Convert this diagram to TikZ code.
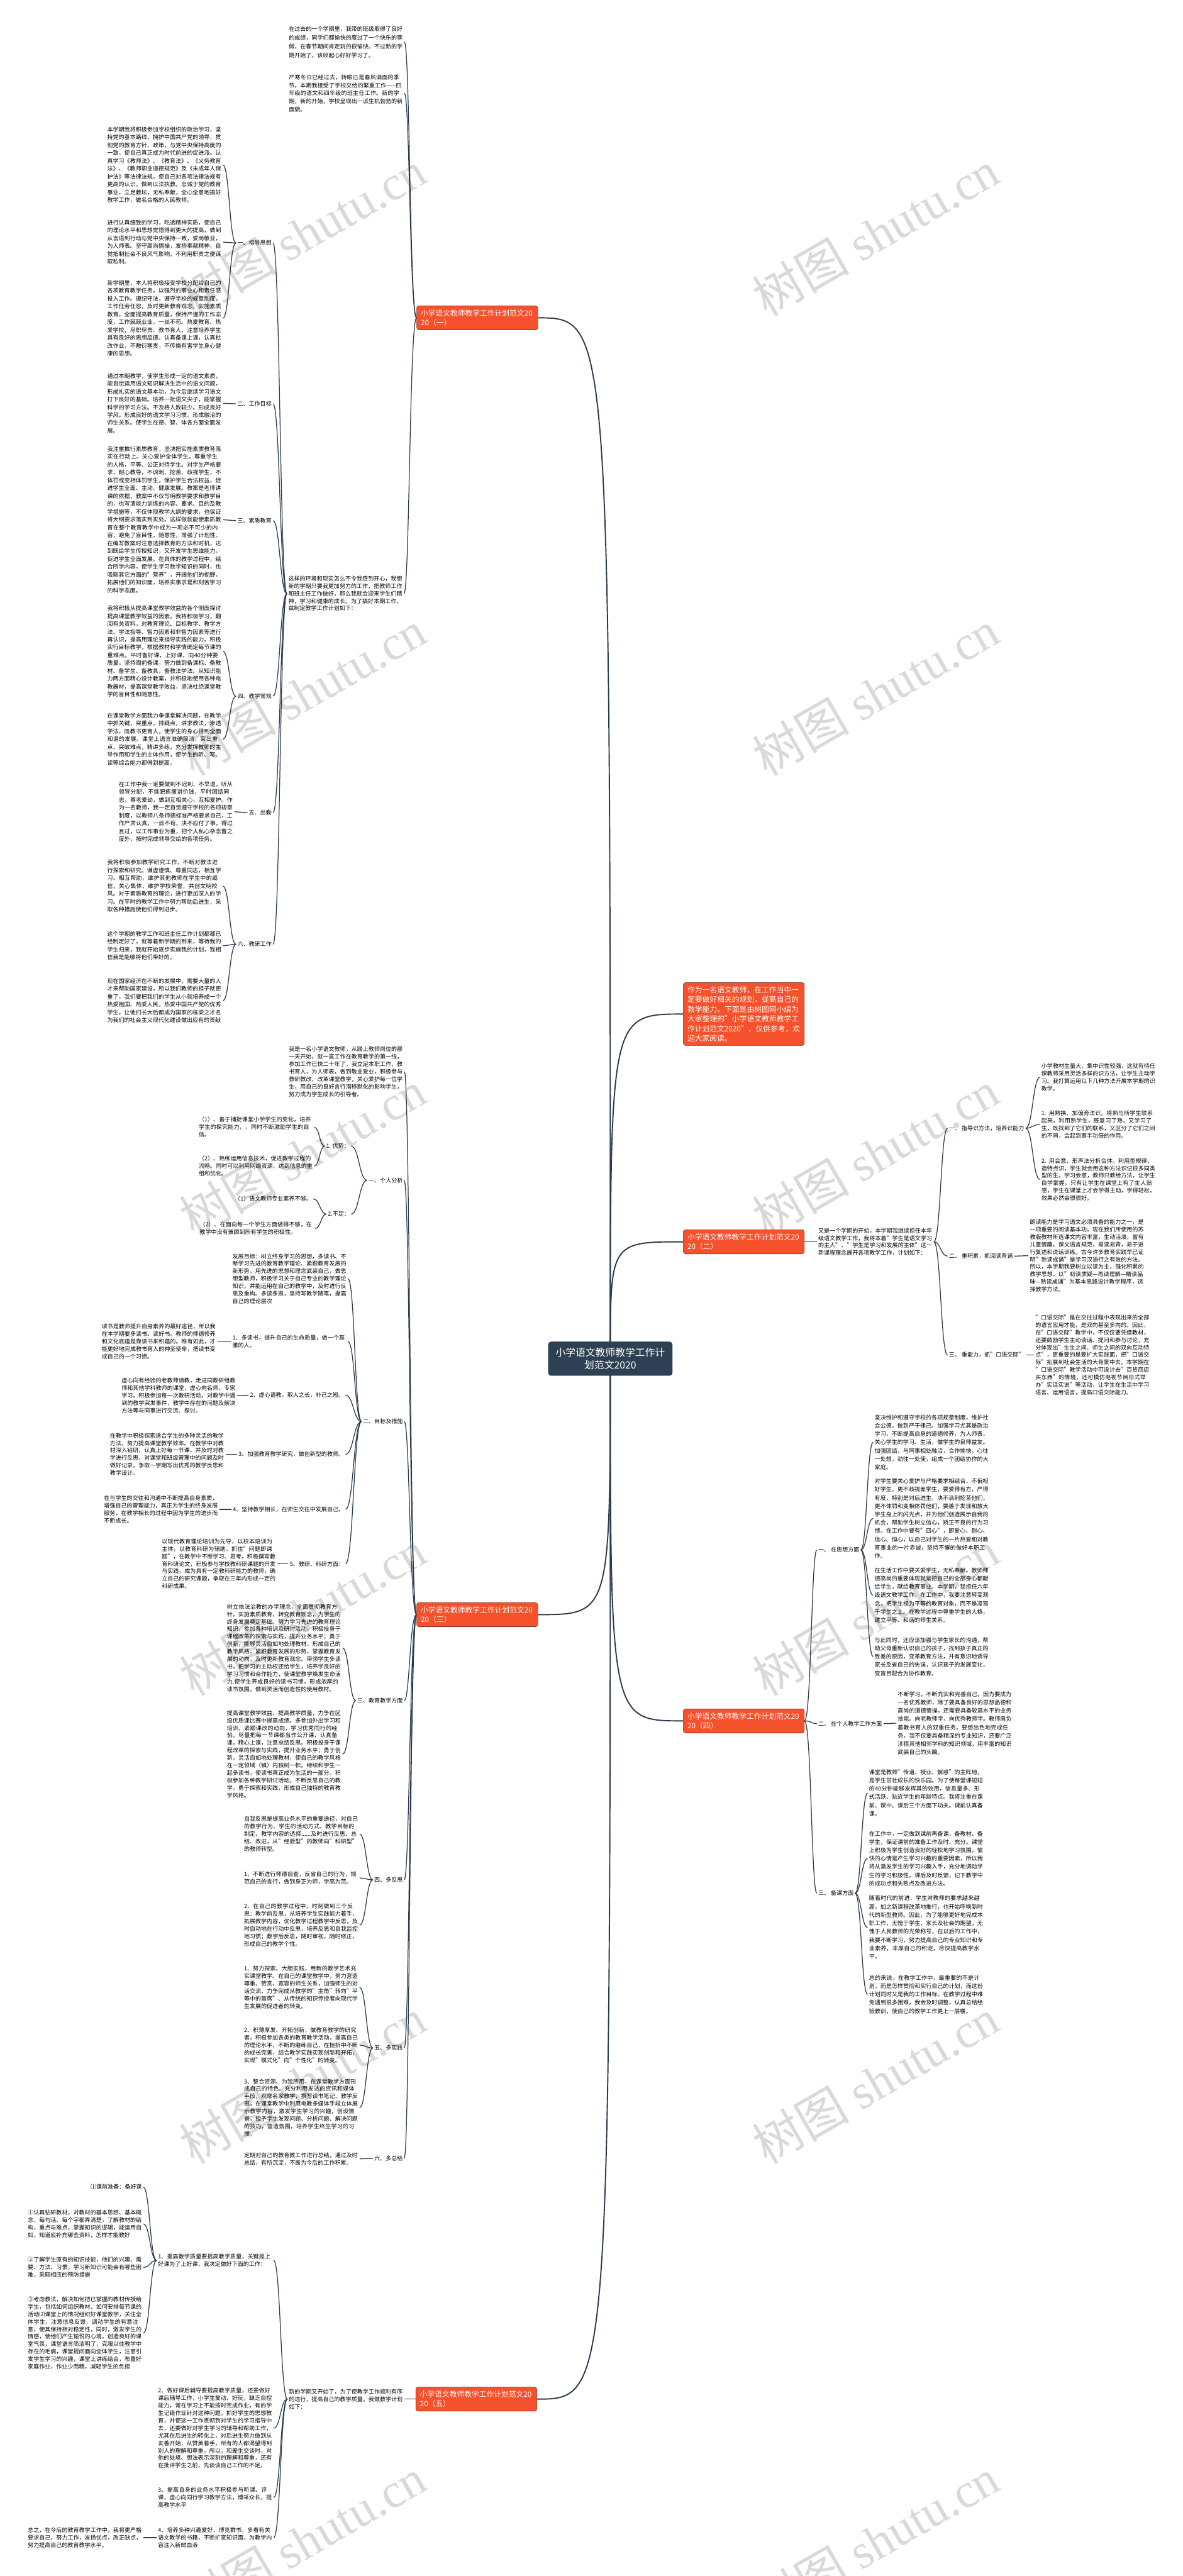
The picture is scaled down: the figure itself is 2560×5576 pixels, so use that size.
\documentclass[tikz,border=0pt]{standalone}
\usepackage{fontspec}
\setmainfont{Noto Sans CJK SC}
\newfontfamily\wmserif{Liberation Serif}
\usetikzlibrary{calc}
\XeTeXlinebreaklocale "zh"
\XeTeXlinebreakskip=0pt plus 1pt
\definecolor{brn}{HTML}{F4512C}
\definecolor{lnc}{HTML}{2B3A4B}
\definecolor{rootc}{HTML}{2E4053}
\pgfdeclarelayer{wm}
\pgfdeclarelayer{cn}
\pgfsetlayers{wm,cn,main}
\newcommand\bcurve[3][]{\draw[conn,#1] let \p1=(#2), \p2=(#3) in (\p1) .. controls ({(\x1+\x2)/2},\y1) and ({(\x1+\x2)/2},\y2) .. (\p2);}
\tikzset{
 conn/.style={draw=lnc, line width=1.7pt, shorten <=3pt, shorten >=3pt},
 rconn/.style={draw=lnc, line width=2.6pt},
 br/.style={fill=brn, draw=brn!55!black, line width=0.8pt, rounded corners=5pt, text=white, font=\fontsize{16}{21}\selectfont, align=left, text width=244pt, inner xsep=9pt, inner ysep=8pt},
 rootst/.style={fill=rootc, draw=rootc!70!black, rounded corners=6pt, text=white, font=\fontsize{21.5}{27}\selectfont, align=center, inner xsep=16pt, inner ysep=13pt},
 ta/.style={font=\fontsize{12.3}{17}\selectfont, text width=247pt, align=left, inner sep=0pt, anchor=west},
 tb/.style={ta, font=\fontsize{12.3}{16.2}\selectfont},
 tc/.style={ta, font=\fontsize{12.3}{18}\selectfont},
 lb/.style={font=\fontsize{12.3}{16}\selectfont, inner sep=0pt},
 wmk/.style={rotate=30, text=black!15, font=\fontsize{105}{110}\selectfont, inner sep=0pt},
}
\begin{document}
\begin{tikzpicture}[x=1pt,y=-1pt]
\useasboundingbox (0,0) rectangle (2560,5576);
\begin{pgfonlayer}{wm}
\fill[white] (0,0) rectangle (2560,5576);
\foreach \wy in {505,1500,2497,3492,4505,5500}
  {\node[wmk] at (655,\wy) {树图\hspace{0.25em}{\wmserif shutu.cn}};
   \node[wmk] at (1895,\wy) {树图\hspace{0.25em}{\wmserif shutu.cn}};}
\end{pgfonlayer}

% ---------- root ----------
\node[rootst] (root) at (1321,2941) {小学语文教师教学工作计\\划范文2020};

% ---------- branch nodes ----------
\node[br] (n1) at (1033,688) {小学语文教师教学工作计划范文20\\20（一）};
\node[br] (ir) at (1610,2195) {作为一名语文教师，在工作当中一定要做好相关的规划，提高自己的教学能力。下面是由树图网小编为大家整理的"小学语文教师教学工作计划范文2020"，仅供参考，欢迎大家阅读。};
\node[br] (n2) at (1610,2688) {小学语文教师教学工作计划范文20\\20（二）};
\node[br] (n3) at (1033,3495) {小学语文教师教学工作计划范文20\\20（三）};
\node[br] (n4) at (1610,3725) {小学语文教师教学工作计划范文20\\20（四）};
\node[br] (n5) at (1031,5193) {小学语文教师教学工作计划范文20\\20（五）};

% ---------- (一) ----------
\node[ta, font=\fontsize{12.3}{19}\selectfont] (a1) at (625,91) {在过去的一个学期里，我带的班级取得了良好的成绩，同学们都愉快的度过了一个快乐的寒假，在春节期间肯定玩的很愉快。不过新的学期开始了，该收起心好好学习了。};
\node[ta, font=\fontsize{12.3}{17.5}\selectfont] (a2) at (625,202) {严寒冬日已经过去，转眼已是春风满面的季节。本期我接受了学校交给的繁重工作——四年级的语文和四年级的班主任工作。新的学期，新的开始，学校呈现出一派生机勃勃的新面貌。};
\node[ta, font=\fontsize{12.3}{16}\selectfont] (a3) at (624,1285) {这样的环境和现实怎么不令我感到开心，我想新的学期只要我更加努力的工作，把教师工作和班主任工作做好，那么我就会迎来学生们精神，学习和健康的成长。为了搞好本期工作，兹制定教学工作计划如下：};

\node[lb, anchor=east] (l1) at (588,526) {一、指导思想};
\node[lb, anchor=east] (l2) at (588,874) {二、工作目标};
\node[lb, anchor=east] (l3) at (588,1127) {三、素质教育};
\node[lb, anchor=east] (l4) at (588,1507) {四、教学常规};
\node[lb, anchor=east] (l5) at (588,1759) {五、出勤};
\node[lb, anchor=east] (l6) at (588,2044) {六、教研工作};

\node[ta] (b1) at (232,357) {本学期我将积极参加学校组织的政治学习，坚持党的基本路线，拥护中国共产党的领导，贯彻党的教育方针、政策，与党中央保持高度的一致，使自己真正成为时代前进的促进派。认真学习《教师法》、《教育法》、《义务教育法》、《教师职业道德规范》及《未成年人保护法》等法律法规，使自己对各项法律法规有更高的认识，做到以法执教。忠诚于党的教育事业，立足教坛，无私奉献，全心全意地搞好教学工作，做名合格的人民教师。};
\node[ta] (b2) at (232,524) {进行认真细致的学习，吃透精神实质，使自己的理论水平和思想觉悟得到更大的提高，做到从言语到行动与党中央保持一致，爱岗敬业，为人师表。坚守高尚情操，发扬奉献精神，自觉抵制社会不良风气影响。不利用职责之便谋取私利。};
\node[ta] (b3) at (232,689) {新学期里，本人将积极接受学校分配给自己的各项教育教学任务，以强烈的事业心和责任感投入工作。遵纪守法，遵守学校的规章制度，工作任劳任怨，及时更新教育观念，实施素质教育，全面提高教育质量，保持严谨的工作态度，工作兢兢业业，一丝不苟。热爱教育、热爱学校，尽职尽责、教书育人，注意培养学生具有良好的思想品德。认真备课上课，认真批改作业，不敷衍塞责，不传播有害学生身心健康的思想。};
\node[ta] (b4) at (232,873) {通过本期教学，使学生形成一定的语文素质，能自觉运用语文知识解决生活中的语文问题，形成扎实的语文基本功，为今后继续学习语文打下良好的基础。培养一批语文尖子，能掌握科学的学习方法。不及格人数较少。形成良好学风。形成良好的语文学习习惯。形成融洽的师生关系。使学生在德、智、体各方面全面发展。};
\node[ta] (b5) at (232,1125) {我注重推行素质教育，坚决把实施素质教育落实在行动上。关心爱护全体学生，尊重学生的人格，平等、公正对待学生。对学生严格要求，耐心教导，不讽刺、挖苦、歧视学生，不体罚或变相体罚学生，保护学生合法权益，促进学生全面、主动、健康发展。教案是老师讲课的依据，教案中不仅写明教学要求和教学目的，也写清能力训练的内容、要求、目的及教学措施等，不仅体现教学大纲的要求，也保证将大纲要求落实到实处。这样做就能使素质教育在整个教育教学中成为一项必不可少的内容，避免了盲目性，随意性，增强了计划性。在编写教案时注意选择教育的方法和时机，达到既给学生传授知识，又开发学生思维能力，促进学生全面发展。在具体的教学过程中，结合所学内容，使学生学习数学知识的同时，也吸取其它方面的"营养"，开阔他们的视野，拓展他们的知识面，培养实事求是和刻苦学习的科学态度。};
\node[ta] (b6) at (232,1410) {我将积极从提高课堂教学效益的各个侧面探讨提高课堂教学效益的因素。我将积极学习，翻阅有关资料，对教育理论、目标教学、教学方法、学法指导、智力因素和非智力因素等进行再认识，提高用理论来指导实践的能力。积极实行目标教学，根据教材和学情确定每节课的重难点。平时备好课，上好课，向40分钟要质量。坚持周前备课，努力做到备课标、备教材、备学生、备教具，备教法学法。从知识能力两方面精心设计教案，并积极地使用各种电教器材，提高课堂教学效益，坚决杜绝课堂教学的盲目性和随意性。};
\node[ta] (b7) at (232,1600) {在课堂教学方面我力争课堂解决问题，在教学中抓关键，突重点，排疑点，讲求教法，渗透学法，既教书更育人，使学生的身心得到全面和谐的发展。课堂上语言准确简洁，突出重点，突破难点，精讲多练，充分发挥教师的主导作用和学生的主体作用，使学生的听、写、读等综合能力都得到提高。};
\node[ta] (b8) at (257,1757) {在工作中我一定要做到不迟到、不早退，听从领导分配，不挑肥拣瘦讲价钱，平时团结同志，尊老爱幼，做到互相关心，互相爱护。作为一名教师，我一定自觉遵守学校的各项规章制度，以教师八条师德标准严格要求自己，工作严肃认真，一丝不苟，决不应付了事，得过且过，以工作事业为重，把个人私心杂念置之度外，按时完成领导交给的各项任务。};
\node[ta] (b9) at (232,1918) {我将积极参加教学研究工作，不断对教法进行探索和研究。谦虚谨慎、尊重同志，相互学习、相互帮助，维护其他教师在学生中的威信，关心集体，维护学校荣誉，共创文明校风。对于素质教育的理论，进行更加深入的学习。在平时的教学工作中努力帮助后进生，采取各种措施使他们得到进步。};
\node[ta] (b10) at (232,2047) {这个学期的教学工作和班主任工作计划都都已经制定好了，就等着新学期的到来，等待我的学生归来，我就开始逐步实施我的计划，我相信我是能够将他们带好的。};
\node[ta] (b11) at (232,2166) {现在国家经济在不断的发展中，需要大量的人才来帮助国家建设，所以我们教师的担子就更重了，我们要把我们的学生从小就培养成一个热爱祖国、热爱人民，热爱中国共产党的优秀学生，让他们长大后都成为国家的栋梁之才名为我们的社会主义现代化建设做出应有的贡献};

% ---------- (三) ----------
\node[tb] (i3) at (625,2320) {我是一名小学语文教师，从踏上教师岗位的那一天开始，就一直工作在教育教学的第一线，参加工作已快二十年了，我立足本职工作，教书育人，为人师表，做到敬业爱业，积极参与教研教改，改革课堂教学，关心爱护每一位学生，用自己的良好言行潜移默化的影响学生，努力成为学生成长的引导者。};
\node[lb, anchor=east] (m1) at (872,2555) {一、个人分析};
\node[lb, anchor=east] (m2) at (872,3077) {二、目标及措施};
\node[lb, anchor=east] (m3) at (872,3681) {三、教育教学方面};
\node[lb, anchor=east] (m4) at (872,4069) {四、多反思};
\node[lb, anchor=east] (m5) at (872,4433) {五、多实践};
\node[lb, anchor=east] (m6) at (872,4672) {六、多总结};

\node[lb, anchor=east] (sa) at (757,2481) {1. 优势：};
\node[lb, anchor=east] (sb) at (757,2628) {2.不足：};
\node[tb] (c11) at (430,2440) {（1）、善于捕捉课堂小学学生的变化，培养学生的探究能力，，同时不断激励学生的自信。};
\node[tb] (c12) at (430,2524) {（2）、熟练运用信息技术，促进教学过程的流畅。同时可以利用网络资源，达到信息的重组和优化。};
\node[lb, anchor=east] (c21) at (675,2595) {（1）语文教师专业素养不够。};
\node[tb] (c22) at (432,2659) {（2）、在面向每一个学生方面做得不够，在教学中没有兼顾到所有学生的积极性。};

\node[tb] (g0) at (503,2768) {发展目标：树立终身学习的思想，多读书、不断学习先进的教育教学理论、紧跟教育发展的新形势，用先进的思想和理念武装自己，做思想型教师，积极学习关于自己专业的教学理论知识，并能运用在自己的教学中，及时进行反思及重构。多读多思，坚持写教学随笔，提高自己的理论层次};
\node[tb] (g1) at (503,2904) {1、多读书，提升自己的生命质量，做一个高雅的人。};
\node[lb, anchor=east] (g2) at (745,3020) {2、虚心请教，取人之长，补己之短。};
\node[lb, anchor=east] (g3) at (745,3148) {3、加强教育教学研究，做创新型的教师。};
\node[lb, anchor=east] (g4) at (745,3267) {4、坚持教学相长，在师生交往中发展自己。};
\node[lb, anchor=east] (g5) at (745,3385) {5、教研、科研方面：};
\node[tb] (g1c) at (220,2904) {读书是教师提升自身素养的最好途径，所以我在本学期要多读书、读好书。教师的师德修养和文化底蕴是靠读书来积蕴的。唯有如此，才能更好地完成教书育人的神圣使命，把读书变成自己的一个习惯。};
\node[tb] (g2c) at (263,3021) {虚心向有经验的老教师请教，走进同教研组教师和其他学科教师的课堂，虚心向名师、专家学习。积极参加每一次教研活动，对教学中遇到的教学突发事件，教学中存在的问题及解决方法等与同事进行交流、探讨。};
\node[tb] (g3c) at (238,3148) {在教学中积极探索适合学生的多种灵活的教学方法，努力提高课堂教学效率。在教学中对教材深入钻研，认真上好每一节课，并及时对教学进行反思，对课堂和班级管理中的问题及时做好记录，争取一学期写出优秀的教学反思和教学设计。};
\node[tb] (g4c) at (225,3267) {在与学生的交往和沟通中不断提高自身素质，增强自己的管理能力，真正为学生的终身发展服务，在教学相长的过程中因为学生的进步而不断成长。};
\node[tb] (g5c) at (350,3385) {以现代教育理论培训为先导，以校本培训为主体，以教育科研为辅助，抓住"问题即课题"，在教学中不断学习、思考，积极撰写教育科研论文，积极参与学校教科研课题的开发与实践，成为具有一定教科研能力的教师，确立自己的研究课题，争取在三年内形成一定的科研成果。};

\node[tb] (h1) at (491,3567) {树立依法治教的办学理念，全面贯彻教育方针，实施素质教育，转变教育观念，为学生的终身发展奠定基础。努力学习先进的教育理论知识，参加各种培训及研讨活动，积极投身于课程改革的探索与实践，提升业务水平；勇于创新，能够灵活自如地处理教材，形成自己的教学风格。紧跟教育发展的形势，掌握教育发展的动向，及时更新教育观念。带领学生多读书，把学习的主动权还给学生，培养学良好的学习习惯和合作能力，使课堂教学焕发生命活力.使学生养成良好的读书习惯，形成浓厚的读书氛围，做到灵活而创造性的使用教材。};
\node[tb] (h2) at (491,3797) {提高课堂教学效益，提高教学质量，力争在区级优质课比赛中提高成绩。多参加外出学习和培训，紧跟课改的动向，学习优秀同行的经验。尽量把每一节课都当作公开课，认真备课，精心上课，注意总结反思。积极投身于课程改革的探索与实践，提升业务水平；勇于创新，灵活自如地处理教材，使自己的教学风格在一定领域（镇）内独树一帜。继续和学生一起多读书，使读书真正成为生活的一部分。积极参加各种教学研讨活动，不断反思自己的教学，勇于探索和实践，形成自己独特的教育教学风格。};
\node[tb] (k1) at (528,3970) {自我反思是提高业务水平的重要途径，对自己的教学行为、学生的活动方式、教学目标的制定、教学内容的选择......及时进行反思、总结、改进，从"经验型"的教师向"科研型"的教师转型。};
\node[tb] (k2) at (528,4065) {1、不断进行师德自查，反省自己的行为，规范自己的言行，做到身正为师，学高为范。};
\node[tb] (k3) at (528,4167) {2、在自己的教学过程中，时刻做到三个反思：教学前反思，从培养学生实践能力着手，拓展教学内容，优化教学过程教学中反思，及时自动地在行动中反思，培养反思和自我监控地习惯；教学后反思，随时审视，随时修正，形成自己的教学个性。};
\node[tb] (k4) at (528,4302) {1、努力探索、大胆实践，用新的教学艺术充实课堂教学。在自己的课堂教学中，努力营造尊重、赞赏、宽容的师生关系，加强师生的对话交流，力争完成从教学的"主角"转向"平等中的首席"、从传统的知识传授者向现代学生发展的促进者的转变。};
\node[tb] (k5) at (528,4427) {2、积薄厚发、开拓创新，做教育教学的研究者。积极参加各类的教育教学活动，提高自己的理论水平，不断的磨练自己，在挫折中不断的成长完善，结合教学实践实现创新和开拓，实现"模式化"向"个性化"的转变。};
\node[tb] (k6) at (528,4562) {3、整合资源、为我所用，在课堂教学方面形成自己的特色。充分利用发达的资讯和媒体手段，观摩名家教学，撰写读书笔记、教学反思，在课堂教学中利用电教多媒体手段立体展示教学内容，激发学生学习的兴趣，创设情景，授予学生发现问题、分析问题、解决问题的技巧，营造氛围，培养学生终生学习的习惯。};
\node[tb] (k7) at (528,4673) {定期对自己的教育教工作进行总结，通过及时总结，有所沉淀，不断为今后的工作积累。};

% ---------- (五) ----------
\node[tb] (i5) at (625,5193) {新的学期又开始了，为了使教学工作顺利有序的进行，提高自己的教学质量，我做教学计划如下：};
\node[tb] (q1) at (342,4893) {1、提高教学质量要提高教学质量，关键是上好课为了上好课，我决定做好下面的工作：};
\node[tb] (q2) at (342,5256) {2、做好课后辅导要提高教学质量，还要做好课后辅导工作，小学生爱动、好玩，缺乏自控能力，常在学习上不能按时完成作业，有的学生记错作业针对这种问题，抓好学生的思想教育，并使这一工作贯彻到对学生的学习指导中去，还要做好对学生学习的辅导和帮助工作，尤其在后进生的转化上，对后进生努力做到从友善开始，从赞美着手，所有的人都渴望得到别人的理解和尊重，所以，和差生交谈时，对他的处境、想法表示深刻的理解和尊重，还有在批评学生之前，先谈谈自己工作的不足。};
\node[tb] (q3) at (342,5406) {3、提高自身的业务水平积极参与听课、评课，虚心向同行学习教学方法，博采众长，提高教学水平};
\node[tb] (q4) at (342,5493) {4、培养多种兴趣爱好，博览群书，多看有关语文教学的书籍，不断扩宽知识面，为教学内容注入新鲜血液};
\node[lb, anchor=east] (p0) at (307,4734) {⑴课前准备：备好课};
\node[tb] (p1) at (60,4814) {①认真钻研教材，对教材的基本思想、基本概念，每句话、每个字都弄清楚，了解教材的结构，重点与难点，掌握知识的逻辑，能运用自如，知道应补充哪些资料，怎样才能教好};
\node[tb] (p2) at (60,4908) {②了解学生原有的知识技能，他们的兴趣、需要、方法、习惯，学习新知识可能会有哪些困难，采取相应的预防措施};
\node[tb] (p3) at (60,5050) {③考虑教法，解决如何把已掌握的教材传授给学生，包括如何组织教材、如何安排每节课的活动⑵课堂上的情况组织好课堂教学，关注全体学生，注意信息反馈，调动学生的有意注意，使其保持相对稳定性，同时，激发学生的情感，使他们产生愉悦的心境，创造良好的课堂气氛，课堂语言简洁明了，克服以往教学中存在的毛病，课堂提问面向全体学生，注意引发学生学习的兴趣，课堂上讲练结合，布置好家庭作业，作业少而精，减轻学生的负担};
\node[tb] (qz) at (60,5493) {总之，在今后的教育教学工作中，我将更严格要求自己，努力工作，发扬优点，改正缺点，努力提高自己的教育教学水平。};

% ---------- (二) ----------
\node[ta, font=\fontsize{12.3}{15.7}\selectfont] (i2) at (1771,2688) {又是一个学期的开始，本学期我继续担任本年级语文教学工作，我将本着"学生是语文学习的主人"、"学生是学习和发展的主体"这一新课程理念展开各项教学工作，计划如下：};
\node[lb, anchor=west] (r1) at (2054,2442) {一、 指导识方法，培养识能力};
\node[lb, anchor=west] (r2) at (2054,2719) {二、 重积累，抓阅读背诵};
\node[lb, anchor=west] (r3) at (2054,2933) {三、 重能力，抓"口语交际"};
\node[tb] (e1) at (2254,2332) {小学教材生量大，集中识性较强，这就有待任课教师采用灵活多样的识方法，让学生主动学习。我打算运用以下几种方法开展本学期的识教学。};
\node[tb] (e2) at (2254,2434) {1. 用熟换、加偏旁法识。将熟与所学生联系起来，利用熟学生，既复习了熟，又学习了生，既找到了它们的联系，又区分了它们之间的不同，会起到事半功倍的作用。};
\node[tb] (e3) at (2254,2553) {2. 用会意、形声法分析合体。利用型规律、造特点识，学生就会用这种方法识记很多同类型的生。学习会意，教师只教给方法，让学生自学掌握。只有让学生在课堂上有了主人翁感，学生在课堂上才会学得主动，学得轻松，效果必然会很很好。};
\node[tb] (e4) at (2229,2718) {朗读能力是学习语文必须具备的能力之一，是一项重要的阅读基本功。现在我们所使用的苏教版教材所选课文内容丰富，生动活泼，富有儿童情趣。课文语言规范，易读易背，易于进行复述和说话训练。古今许多教育实践早已证明"熟读成诵"是学习汉语行之有效的方法。所以，本学期我要树立以读为主，强化积累的教学思想，以"初读质疑—再读理解—精读品味—熟读成诵"为基本思路设计教学程序，选择教学方法。};
\node[tb] (e5) at (2241,2933) {"口语交际"是在交往过程中表现出来的全部的语言应用才能，是双向甚至多向的。因此，在"口语交际"教学中，不仅仅要凭借教材，还要鼓励学生主动谈话、提问和参与讨论，充分体现出"生生之间、师生之间的双向互动特点"，更重要的是要扩大实践面，把"口语交际"拓展到社会生活的大背景中去。本学期在 "口语交际"教学活动中可设计去"百货商店买东西"的情境，还可模仿电视节目形式举办"实话实说"等活动，让学生在生活中学习语言、运用语言，提高口语交际能力。};

% ---------- (四) ----------
\node[lb, anchor=west] (t1) at (1771,3355) {一、 在思想方面};
\node[lb, anchor=west] (t2) at (1771,3731) {二、 在个人教学工作方面};
\node[lb, anchor=west] (t3) at (1771,4098) {三、 备课方面};
\node[tc] (u1) at (1893,3122) {坚决维护和遵守学校的各项规章制度，维护社会公德，做到严于律己。加强学习尤其是政治学习，不断提高自身的道德修养，为人师表，关心学生的学习、生活，做学生的良师益友。加强团结，与同事相处融洽，合作愉快，心往一处想，劲往一处使，组成一个团结协作的大家庭。};
\node[tc] (u2) at (1893,3287) {对学生要关心爱护与严格要求相结合，不偏袒好学生，更不歧视差学生，要爱得有方，严得有度，特别是对后进生，决不讽刺挖苦他们，更不体罚和变相体罚他们，要善于发现和放大学生身上的闪光点，并为他们创造展示自我的机会，帮助学生树立信心，矫正不良的行为习惯。在工作中要有"四心"，即爱心、耐心、信心、恒心，以自己对学生的一片热爱和对教育事业的一片赤诚，坚持不懈的做好本职工作。};
\node[tc] (u3) at (1893,3453) {在生活工作中要关爱学生，无私奉献。教师师德高尚的重要体现就是把自己的全部身心都献给学生，献给教育事业。本学期，我担任六年级语文教学工作。在工作中，我要注意转变观念，把学生视为平等的教育对象，而不是凌驾于学生之上。在教学过程中尊重学生的人格，建立平等、和谐的师生关系。};
\node[tc] (u4) at (1893,3586) {与此同时，还应该加强与学生家长的沟通，帮助父母重新认识自己的孩子，找到孩子真正的致差的原因，变革教育方法，并有意识地诱导家长反省自己的失误，认识孩子的发展变化，变盲目配合为协作教育。};
\node[tc] (v1) at (1943,3730) {不断学习，不断充实和完善自己。因为要成为一名优秀教师，除了要具备良好的思想品德和高尚的道德情操，还需要具备较高水平的业务技能。向老教师学，向优秀教师学。教师肩负着教书育人的双重任务，要想出色地完成任务，我不仅要具备精深的专业知识，还要广泛涉猎其他相邻学科的知识领域，用丰富的知识武装自己的头脑。};
\node[tc] (w1) at (1881,3881) {课堂是教师"传道、授业、解惑"的主阵地，是学生茁壮成长的快乐园。为了使每堂课短短的40分钟能够发挥其的效用，信息量多、形式活跃、贴近学生的年龄特点。我将注重在课前、课中、课后三个方面下功夫。课前认真备课。};
\node[tc] (w2) at (1881,4023) {在工作中，一定做到课前再备课，备教材、备学生，保证课前的准备工作及时、充分。课堂上积极为学生创造良好的轻松地学习氛围，愉快的心情是产生学习兴趣的重要因素，所以我将从激发学生的学习兴趣入手，充分地调动学生的学习积极性。课后及时反馈，记下教学中的成功点和失败点及改进方法。};
\node[tc] (w3) at (1881,4172) {随着时代的前进，学生对教师的要求越来越高，加之新课程改革地推行，也开始呼唤新时代的新型教师。因此，为了能够更好地完成本职工作，无愧于学生、家长及社会的期望，无愧于人民教师的光荣称号，在以后的工作中，我要不断学习，努力提高自己的专业知识和专业素养，丰厚自己的积淀，尽快提高教学水平。};
\node[tc] (w4) at (1881,4317) {总的来说，在教学工作中，最重要的不是计划，而是怎样贯彻和实行自己的计划，而这份计划同时又是我的工作目标。在教学过程中难免遇到很多困难，我会及时调整，认真总结经验教训，使自己的教学工作更上一层楼。};

% ---------- connectors ----------
\begin{pgfonlayer}{cn}
\foreach \n in {n1,n3,n5} {\draw[rconn] (root.center) .. controls (root.center |- \n.east) .. (\n.east);}
\foreach \n in {ir,n2,n4} {\draw[rconn] (root.center) .. controls (root.center |- \n.west) .. (\n.west);}
% (一)
\foreach \c in {a1,a2,a3} {\bcurve[shorten <=0pt]{n1.west}{\c.east}}
\foreach \c in {l1,l2,l3,l4,l5,l6} {\bcurve{a3.west}{\c.east}}
\foreach \c in {b1,b2,b3} {\bcurve{l1.west}{\c.east}}
\bcurve{l2.west}{b4.east}
\bcurve{l3.west}{b5.east}
\foreach \c in {b6,b7} {\bcurve{l4.west}{\c.east}}
\bcurve{l5.west}{b8.east}
\foreach \c in {b9,b10,b11} {\bcurve{l6.west}{\c.east}}
% (三)
\foreach \c in {i3,m1,m2,m3,m4,m5,m6} {\bcurve[shorten <=0pt]{n3.west}{\c.east}}
\foreach \c in {sa,sb} {\bcurve{m1.west}{\c.east}}
\foreach \c in {c11,c12} {\bcurve{sa.west}{\c.east}}
\foreach \c in {c21,c22} {\bcurve{sb.west}{\c.east}}
\foreach \c in {g0,g1,g2,g3,g4,g5} {\bcurve{m2.west}{\c.east}}
\bcurve{g1.west}{g1c.east}
\bcurve{g2.west}{g2c.east}
\bcurve{g3.west}{g3c.east}
\bcurve{g4.west}{g4c.east}
\bcurve{g5.west}{g5c.east}
\foreach \c in {h1,h2} {\bcurve{m3.west}{\c.east}}
\foreach \c in {k1,k2,k3} {\bcurve{m4.west}{\c.east}}
\foreach \c in {k4,k5,k6} {\bcurve{m5.west}{\c.east}}
\bcurve{m6.west}{k7.east}
% (五)
\bcurve[shorten <=0pt]{n5.west}{i5.east}
\foreach \c in {q1,q2,q3,q4} {\bcurve{i5.west}{\c.east}}
\foreach \c in {p0,p1,p2,p3} {\bcurve{q1.west}{\c.east}}
\bcurve{q4.west}{qz.east}
% (二)
\bcurve[shorten <=0pt]{n2.east}{i2.west}
\foreach \c in {r1,r2,r3} {\bcurve{i2.east}{\c.west}}
\foreach \c in {e1,e2,e3} {\bcurve{r1.east}{\c.west}}
\bcurve{r2.east}{e4.west}
\bcurve{r3.east}{e5.west}
% (四)
\foreach \c in {t1,t2,t3} {\bcurve[shorten <=0pt]{n4.east}{\c.west}}
\foreach \c in {u1,u2,u3,u4} {\bcurve{t1.east}{\c.west}}
\bcurve{t2.east}{v1.west}
\foreach \c in {w1,w2,w3,w4} {\bcurve{t3.east}{\c.west}}
\end{pgfonlayer}
\end{tikzpicture}
\end{document}
